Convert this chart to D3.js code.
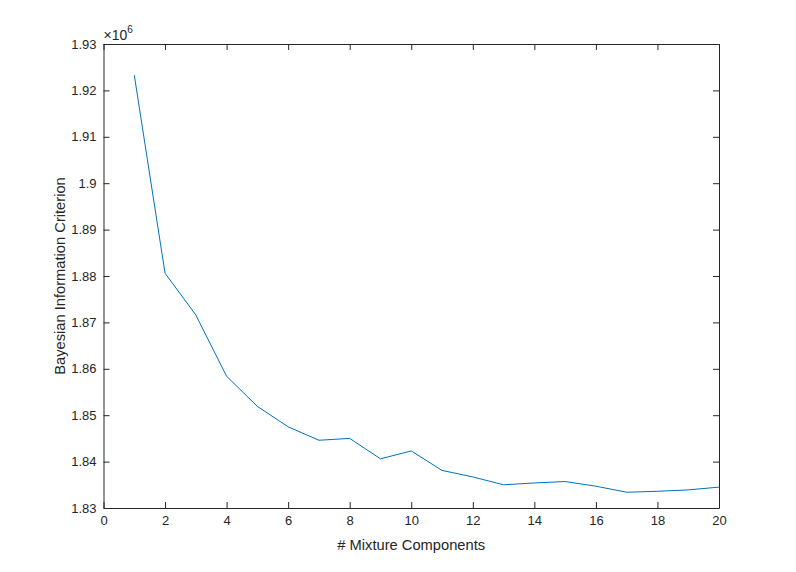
<!DOCTYPE html>
<html lang="en">
<head>
<meta charset="UTF-8">
<title>BIC vs Mixture Components</title>
<script src="https://d3js.org/d3.v7.min.js"></script>
<style>
    body { margin: 0; background: #fff; }
    svg text { font-family: 'Liberation Sans', Arial, sans-serif; fill: #262626; }
</style>
</head>
<body>
<div id="chart"></div>
<script>
    // values (BIC in units of 1e6)
    const components = [1, 2, 3, 4, 5, 6, 7, 8, 9, 10, 11, 12, 13, 14, 15, 16, 17, 18, 19, 20];
    const bic = [1.9233, 1.8806, 1.8716, 1.8584, 1.8519, 1.8475, 1.8446, 1.8450, 1.8406, 1.8423,
                 1.8381, 1.8367, 1.8350, 1.8354, 1.8357, 1.8347, 1.8334, 1.8336, 1.8339, 1.8345];
    const xTicks = [0, 2, 4, 6, 8, 10, 12, 14, 16, 18, 20];
    const yTicks = [1.83, 1.84, 1.85, 1.86, 1.87, 1.88, 1.89, 1.9, 1.91, 1.92, 1.93];

    const width = 796, height = 572;
    const margin = {top: 44, right: 77, bottom: 64, left: 103.5};
    const innerW = width - margin.left - margin.right;
    const innerH = height - margin.top - margin.bottom;

    const svg = d3.select("#chart").append("svg")
        .attr("width", width)
        .attr("height", height);

    const g = svg.append("g")
        .attr("transform", `translate(${margin.left},${margin.top})`);

    const x = d3.scaleLinear().domain([0, 20]).range([0, innerW]);
    const y = d3.scaleLinear().domain([1.83, 1.93]).range([innerH, 0]);

    const fmt = d => String(+d.toFixed(2));
    const axisColor = "#262626";

    // bottom / left axes with labels, inward ticks
    const xAxis = g.append("g")
        .attr("transform", `translate(0,${innerH})`)
        .call(d3.axisBottom(x).tickValues(xTicks).tickSizeInner(-6).tickSizeOuter(0).tickPadding(8));
    const yAxis = g.append("g")
        .call(d3.axisLeft(y).tickValues(yTicks).tickFormat(fmt).tickSizeInner(-6).tickSizeOuter(0).tickPadding(7));

    // top / right mirrored ticks without labels
    const xTop = g.append("g")
        .call(d3.axisTop(x).tickValues(xTicks).tickSizeInner(-6).tickSizeOuter(0).tickFormat(""));
    const yRight = g.append("g")
        .attr("transform", `translate(${innerW},0)`)
        .call(d3.axisRight(y).tickValues(yTicks).tickSizeInner(-6).tickSizeOuter(0).tickFormat(""));

    [xAxis, yAxis, xTop, yRight].forEach(a => {
        a.selectAll("path, line").attr("stroke", axisColor);
        a.selectAll("text").attr("font-size", 13).attr("fill", axisColor);
    });

    // line
    const line = d3.line()
        .x((d, i) => x(components[i]))
        .y(d => y(d));

    g.append("path")
        .datum(bic)
        .attr("fill", "none")
        .attr("stroke", "#0072BD")
        .attr("stroke-width", 1)
        .attr("d", line);

    // exponent label
    const exp = g.append("text")
        .attr("x", 0)
        .attr("y", -4)
        .attr("font-size", 14);
    exp.append("tspan").text("\u00d710");
    exp.append("tspan").attr("dy", -7).attr("font-size", 10).text("6");

    // axis titles
    g.append("text")
        .attr("x", innerW / 2)
        .attr("y", innerH + 42)
        .attr("text-anchor", "middle")
        .attr("font-size", 14.7)
        .text("# Mixture Components");

    g.append("text")
        .attr("transform", `translate(-39,${innerH / 2}) rotate(-90)`)
        .attr("text-anchor", "middle")
        .attr("font-size", 14.7)
        .text("Bayesian Information Criterion");
</script>
</body>
</html>
